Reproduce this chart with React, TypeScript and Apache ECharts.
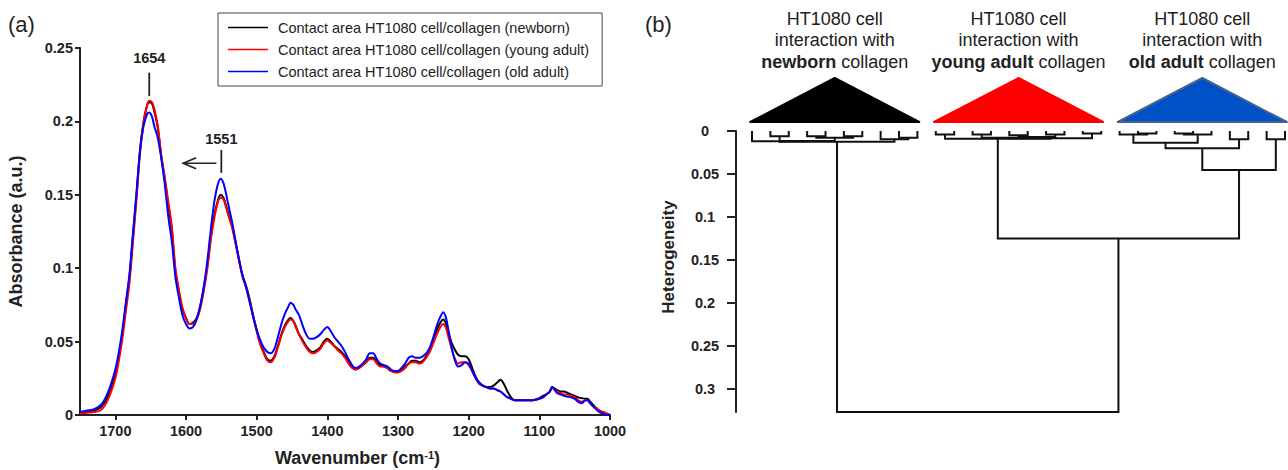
import React, { useEffect, useRef } from "react";
import * as echarts from "echarts";

const FONT = "'Liberation Sans', Arial, Helvetica, sans-serif";

// ---------- (a) FTIR spectra ----------
const wavenumbers = [
  1750, 1740, 1730, 1720, 1710, 1700, 1695, 1690, 1685, 1680,
  1675, 1670, 1665, 1660, 1655, 1652, 1648, 1645, 1640, 1635,
  1630, 1625, 1620, 1615, 1610, 1605, 1600, 1595, 1590, 1585,
  1580, 1575, 1570, 1565, 1560, 1555, 1551, 1547, 1543, 1540,
  1535, 1530, 1525, 1520, 1515, 1510, 1505, 1500, 1495, 1490,
  1485, 1480, 1475, 1470, 1465, 1460, 1455, 1452, 1448, 1445,
  1440, 1435, 1430, 1425, 1420, 1415, 1410, 1405, 1400, 1395,
  1390, 1385, 1380, 1375, 1370, 1365, 1360, 1355, 1350, 1345,
  1340, 1335, 1330, 1325, 1320, 1315, 1310, 1305, 1300, 1295,
  1290, 1285, 1280, 1275, 1270, 1265, 1260, 1255, 1250, 1245,
  1240, 1236, 1232, 1228, 1224, 1220, 1215, 1210, 1205, 1200,
  1195, 1190, 1185, 1180, 1175, 1170, 1165, 1160, 1155, 1150,
  1145, 1140, 1135, 1130, 1120, 1110, 1100, 1095, 1090, 1085,
  1082, 1078, 1075, 1070, 1065, 1060, 1055, 1050, 1045, 1040,
  1035, 1032, 1028, 1024, 1020, 1015, 1010, 1005, 1000,
];

const absorbanceNewborn = [
  0.0015, 0.002, 0.003, 0.0055, 0.013, 0.027, 0.040, 0.056, 0.075, 0.094,
  0.122, 0.150, 0.181, 0.200, 0.211, 0.213, 0.212, 0.207, 0.196, 0.176,
  0.160, 0.143, 0.126, 0.098, 0.084, 0.072, 0.066, 0.062, 0.063, 0.066,
  0.074, 0.086, 0.101, 0.121, 0.136, 0.146, 0.150, 0.148, 0.142, 0.137,
  0.129, 0.118, 0.106, 0.095, 0.088, 0.079, 0.068, 0.058, 0.049, 0.043,
  0.038, 0.037, 0.040, 0.047, 0.055, 0.061, 0.065, 0.066, 0.064, 0.061,
  0.055, 0.051, 0.047, 0.044, 0.043, 0.044, 0.046, 0.050, 0.052, 0.050,
  0.047, 0.045, 0.043, 0.040, 0.036, 0.033, 0.031, 0.032, 0.034, 0.036,
  0.039, 0.039, 0.036, 0.034, 0.033, 0.032, 0.030, 0.030, 0.030, 0.031,
  0.033, 0.035, 0.037, 0.037, 0.036, 0.037, 0.040, 0.044, 0.051, 0.058,
  0.063, 0.065, 0.062, 0.055, 0.049, 0.045, 0.041, 0.040, 0.040, 0.038,
  0.032, 0.026, 0.022, 0.020, 0.019, 0.019, 0.020, 0.022, 0.024, 0.021,
  0.016, 0.012, 0.010, 0.010, 0.010, 0.010, 0.0115, 0.013, 0.014, 0.016,
  0.019, 0.018, 0.017, 0.016, 0.016, 0.015, 0.014, 0.013, 0.012, 0.0115,
  0.011, 0.011, 0.009, 0.007, 0.005, 0.003, 0.002, 0.001, 0.0,
];

const absorbanceYoungAdult = [
  0.001, 0.0015, 0.002, 0.0035, 0.011, 0.025, 0.037, 0.052, 0.071, 0.090,
  0.118, 0.147, 0.179, 0.199, 0.211, 0.214, 0.213, 0.209, 0.197, 0.177,
  0.162, 0.145, 0.128, 0.100, 0.085, 0.073, 0.066, 0.062, 0.062, 0.065,
  0.072, 0.084, 0.099, 0.119, 0.134, 0.145, 0.148, 0.147, 0.141, 0.136,
  0.128, 0.117, 0.105, 0.094, 0.087, 0.078, 0.067, 0.057, 0.048, 0.042,
  0.037, 0.036, 0.039, 0.046, 0.054, 0.060, 0.064, 0.065, 0.064, 0.060,
  0.055, 0.050, 0.046, 0.043, 0.042, 0.043, 0.045, 0.049, 0.051, 0.049,
  0.047, 0.044, 0.042, 0.039, 0.035, 0.032, 0.031, 0.032, 0.034, 0.036,
  0.038, 0.038, 0.035, 0.033, 0.033, 0.032, 0.030, 0.029, 0.029, 0.030,
  0.032, 0.035, 0.036, 0.036, 0.035, 0.036, 0.039, 0.043, 0.049, 0.055,
  0.060, 0.062, 0.059, 0.052, 0.045, 0.039, 0.035, 0.036, 0.036, 0.034,
  0.030, 0.025, 0.021, 0.020, 0.019, 0.018, 0.018, 0.017, 0.016, 0.014,
  0.012, 0.011, 0.010, 0.010, 0.010, 0.010, 0.011, 0.012, 0.014, 0.016,
  0.019, 0.017, 0.016, 0.015, 0.014, 0.014, 0.013, 0.012, 0.010, 0.009,
  0.010, 0.010, 0.008, 0.006, 0.005, 0.003, 0.002, 0.001, 0.0,
];

const absorbanceOldAdult = [
  0.002, 0.003, 0.004, 0.007, 0.016, 0.031, 0.043, 0.058, 0.077, 0.096,
  0.124, 0.152, 0.180, 0.197, 0.205, 0.206, 0.203, 0.197, 0.189, 0.175,
  0.157, 0.135, 0.118, 0.094, 0.080, 0.068, 0.062, 0.059, 0.060, 0.065,
  0.074, 0.087, 0.104, 0.126, 0.145, 0.157, 0.161, 0.158, 0.150, 0.143,
  0.132, 0.119, 0.106, 0.095, 0.087, 0.077, 0.067, 0.058, 0.051, 0.046,
  0.043, 0.042, 0.045, 0.053, 0.062, 0.069, 0.074, 0.0765, 0.075, 0.072,
  0.068, 0.061, 0.055, 0.052, 0.052, 0.053, 0.055, 0.058, 0.060, 0.057,
  0.053, 0.050, 0.047, 0.043, 0.038, 0.034, 0.032, 0.033, 0.035, 0.038,
  0.042, 0.042, 0.038, 0.035, 0.034, 0.033, 0.031, 0.030, 0.030, 0.032,
  0.035, 0.039, 0.040, 0.039, 0.039, 0.040, 0.042, 0.046, 0.053, 0.061,
  0.067, 0.070, 0.066, 0.056, 0.046, 0.038, 0.033, 0.034, 0.036, 0.035,
  0.030, 0.025, 0.022, 0.020, 0.019, 0.018, 0.018, 0.017, 0.016, 0.014,
  0.012, 0.011, 0.010, 0.010, 0.010, 0.010, 0.011, 0.012, 0.014, 0.016,
  0.019, 0.017, 0.015, 0.014, 0.013, 0.0125, 0.012, 0.011, 0.009, 0.008,
  0.010, 0.010, 0.008, 0.006, 0.004, 0.002, 0.001, 0.0, 0.0,
];

const spectrumNames = [
  "Contact area HT1080 cell/collagen (newborn)",
  "Contact area HT1080 cell/collagen (young adult)",
  "Contact area HT1080 cell/collagen (old adult)",
];
const spectrumColors = ["#000000", "#ff0000", "#0000ff"];
const spectrumValues = [absorbanceNewborn, absorbanceYoungAdult, absorbanceOldAdult];

const wavenumberRange = [1000, 1750];
const wavenumberTickRange = [1000, 1700];
const wavenumberStep = 100;
const absorbanceRange = [0, 0.25];
const absorbanceStep = 0.05;

const peakMarks = [
  { label: "1654", wavenumber: 1652, labelAt: 0.2434, lineFrom: 0.2332, lineTo: 0.2173 },
  { label: "1551", wavenumber: 1550, labelAt: 0.188, lineFrom: 0.1805, lineTo: 0.1649 },
];
const shiftArrow = { from: 1557, to: 1604, absorbance: 0.1715 };

// ---------- (b) dendrogram ----------
const heterogeneityMax = 0.327;
const heterogeneityTickMax = 0.3;
const heterogeneityStep = 0.05;
const leafCount = 30;
// [left child, right child, merge height]; ids 0..29 are leaves, merges get ids 30, 31, ...
const merges: [number, number, number][] = [
  // newborn cluster
  [1, 2, 0.006], // 30
  [3, 4, 0.006], // 31
  [5, 6, 0.006], // 32
  [8, 9, 0.008], // 33
  [31, 32, 0.008], // 34
  [7, 33, 0.0095], // 35
  [30, 34, 0.0115], // 36
  [0, 36, 0.012], // 37
  [37, 35, 0.0125], // 38
  // young adult cluster
  [10, 11, 0.004], // 39
  [12, 13, 0.004], // 40
  [14, 15, 0.005], // 41
  [16, 17, 0.004], // 42
  [18, 19, 0.003], // 43
  [41, 42, 0.007], // 44
  [40, 44, 0.008], // 45
  [45, 43, 0.0085], // 46
  [39, 46, 0.009], // 47
  // old adult cluster
  [21, 22, 0.003], // 48
  [20, 48, 0.004], // 49
  [23, 24, 0.003], // 50
  [50, 25, 0.004], // 51
  [49, 51, 0.0136], // 52
  [26, 27, 0.0097], // 53
  [52, 53, 0.02], // 54
  [28, 29, 0.0097], // 55
  [54, 55, 0.0454], // 56
  // between clusters
  [47, 56, 0.125], // 57
  [38, 57, 0.327], // 58
];

const clusterGroups = [
  { firstLeaf: 0, lastLeaf: 9, bold: "newborn", fill: "#000000", stroke: "#000000" },
  { firstLeaf: 10, lastLeaf: 19, bold: "young adult", fill: "#ff0000", stroke: "#ff0000" },
  { firstLeaf: 20, lastLeaf: 29, bold: "old adult", fill: "#0050c8", stroke: "#44618c" },
];

function buildDendrogram() {
  const nodeX: number[] = [];
  const nodeH: number[] = [];
  for (let i = 0; i < leafCount; i++) {
    nodeX[i] = i;
    nodeH[i] = 0;
  }
  return merges.map(([a, b, h], k) => {
    const id = leafCount + k;
    nodeX[id] = (nodeX[a] + nodeX[b]) / 2;
    nodeH[id] = h;
    return {
      coords: [
        [nodeX[a], nodeH[a]],
        [nodeX[a], h],
        [nodeX[b], h],
        [nodeX[b], nodeH[b]],
      ],
    };
  });
}

const AXIS_COLOR = "#222222";

// layout (pixels)
const SPEC = { left: 80, top: 48, width: 530, height: 367 };
const DEND = { left: 752, top: 131, width: 533, height: 281 };

export default function App() {
  const ref = useRef<HTMLDivElement | null>(null);

  useEffect(() => {
    if (!ref.current) return;
    const chart = echarts.init(ref.current, undefined, { renderer: "svg" });

    // helper grids carry the ticks so that no extra tick appears at the axis ends
    const specSpan = wavenumberRange[1] - wavenumberRange[0];
    const tickGridLeft = SPEC.left + (SPEC.width * (wavenumberRange[1] - wavenumberTickRange[1])) / specSpan;
    const tickGridWidth = (SPEC.width * (wavenumberTickRange[1] - wavenumberTickRange[0])) / specSpan;
    const dendTickHeight = (DEND.height * heterogeneityTickMax) / heterogeneityMax;

    const tickLabelStyle = {
      fontSize: 14.5,
      fontWeight: "bold",
      color: AXIS_COLOR,
      fontFamily: FONT,
    };
    const axisLineStyle = { color: AXIS_COLOR, width: 2 };

    const option: any = {
      animation: false,
      backgroundColor: "#ffffff",
      textStyle: { fontFamily: FONT },
      legend: {
        show: true,
        data: spectrumNames,
        orient: "vertical",
        left: 218,
        top: 13,
        icon: "rect",
        itemWidth: 40,
        itemHeight: 1.6,
        itemGap: 7,
        padding: [7, 13, 7, 10],
        borderColor: "#444444",
        borderWidth: 1,
        borderRadius: 0,
        backgroundColor: "#ffffff",
        selectedMode: false,
        textStyle: {
          fontSize: 14.5,
          color: "#222222",
          fontFamily: FONT,
          padding: [0, 0, 0, 5],
          lineHeight: 15,
        },
      },
      grid: [
        { ...SPEC, containLabel: false, outerBoundsMode: "none" },
        { ...DEND, containLabel: false, outerBoundsMode: "none" },
        { left: tickGridLeft, top: SPEC.top, width: tickGridWidth, height: SPEC.height, containLabel: false, outerBoundsMode: "none" },
        { left: DEND.left, top: DEND.top, width: DEND.width, height: dendTickHeight, containLabel: false, outerBoundsMode: "none" },
      ],
      xAxis: [
        {
          gridIndex: 0,
          type: "value",
          min: wavenumberRange[0],
          max: wavenumberRange[1],
          inverse: true,
          name: "Wavenumber (cm{sup|-1})",
          nameLocation: "middle",
          nameGap: 34,
          nameMoveOverlap: false,
          nameTextStyle: {
            fontSize: 18,
            fontWeight: "bold",
            color: AXIS_COLOR,
            fontFamily: FONT,
            padding: [0, 0, 0, 25],
            rich: {
              sup: { fontSize: 11, fontWeight: "bold", color: AXIS_COLOR, fontFamily: FONT, verticalAlign: "top" },
            },
          },
          axisLine: { show: true, onZero: false, lineStyle: axisLineStyle },
          axisTick: { show: false },
          axisLabel: { show: false },
          splitLine: { show: false },
        },
        { gridIndex: 1, type: "value", min: 0, max: leafCount - 1, show: false },
        {
          gridIndex: 2,
          type: "value",
          min: wavenumberTickRange[0],
          max: wavenumberTickRange[1],
          interval: wavenumberStep,
          inverse: true,
          axisLine: { show: false, onZero: false },
          axisTick: { show: true, length: 5, inside: false, lineStyle: axisLineStyle },
          axisLabel: { show: true, margin: 8, ...tickLabelStyle, formatter: (v: number) => String(v) },
          splitLine: { show: false },
        },
        { gridIndex: 3, type: "value", min: 0, max: 1, show: false },
      ],
      yAxis: [
        {
          gridIndex: 0,
          type: "value",
          min: absorbanceRange[0],
          max: absorbanceRange[1],
          interval: absorbanceStep,
          name: "Absorbance (a.u.)",
          nameLocation: "middle",
          nameGap: 55,
          nameRotate: 90,
          nameMoveOverlap: false,
          nameTextStyle: { fontSize: 18, fontWeight: "bold", color: AXIS_COLOR, fontFamily: FONT },
          axisLine: { show: true, onZero: false, lineStyle: axisLineStyle },
          axisTick: { show: true, length: 5, inside: false, lineStyle: axisLineStyle },
          axisLabel: { show: true, margin: 7, ...tickLabelStyle },
          splitLine: { show: false },
        },
        {
          gridIndex: 1,
          type: "value",
          min: 0,
          max: heterogeneityMax,
          inverse: true,
          offset: 16,
          name: "Heterogeneity",
          nameLocation: "middle",
          nameGap: 59,
          nameRotate: 90,
          nameMoveOverlap: false,
          nameTextStyle: {
            fontSize: 17,
            fontWeight: "bold",
            color: AXIS_COLOR,
            fontFamily: FONT,
            padding: [0, 0, 0, 29],
          },
          axisLine: { show: true, onZero: false, lineStyle: axisLineStyle },
          axisTick: { show: false },
          axisLabel: { show: false },
          splitLine: { show: false },
        },
        { gridIndex: 2, type: "value", min: 0, max: 1, show: false },
        {
          gridIndex: 3,
          type: "value",
          min: 0,
          max: heterogeneityTickMax,
          interval: heterogeneityStep,
          inverse: true,
          offset: 16,
          axisLine: { show: false, onZero: false },
          axisTick: { show: true, length: 9, inside: false, lineStyle: axisLineStyle },
          axisLabel: { show: true, margin: 31, align: "center", ...tickLabelStyle },
          splitLine: { show: false },
        },
      ],
      series: [
        ...spectrumValues.map((vals, i) => ({
          type: "line",
          name: spectrumNames[i],
          xAxisIndex: 0,
          yAxisIndex: 0,
          data: wavenumbers.map((w, j) => [w, vals[j]]),
          symbol: "none",
          showSymbol: false,
          smooth: 0.3,
          silent: true,
          z: 2 + i,
          lineStyle: { color: spectrumColors[i], width: 2 },
          itemStyle: { color: spectrumColors[i] },
        })),
        {
          type: "lines",
          name: "dendrogram",
          coordinateSystem: "cartesian2d",
          xAxisIndex: 1,
          yAxisIndex: 1,
          polyline: true,
          clip: false,
          silent: true,
          data: buildDendrogram(),
          lineStyle: { color: "#111111", width: 2, opacity: 1 },
          z: 3,
        },
      ],
    };

    chart.setOption(option);

    const px = (grid: number, x: number, y: number) =>
      chart.convertToPixel({ gridIndex: grid } as any, [x, y]) as number[];

    const graphics: any[] = [];

    graphics.push({
      type: "text",
      x: 8,
      y: 24,
      style: { text: "(a)", fontSize: 22, fontFamily: FONT, fill: "#222222", align: "left", verticalAlign: "middle" },
    });
    graphics.push({
      type: "text",
      x: 645,
      y: 24,
      style: { text: "(b)", fontSize: 22, fontFamily: FONT, fill: "#222222", align: "left", verticalAlign: "middle" },
    });

    peakMarks.forEach((m) => {
      const [tx, ty] = px(0, m.wavenumber, m.labelAt);
      const [, y1] = px(0, m.wavenumber, m.lineFrom);
      const [, y2] = px(0, m.wavenumber, m.lineTo);
      graphics.push({
        type: "text",
        x: tx,
        y: ty,
        style: {
          text: m.label,
          fontSize: 14.5,
          fontWeight: "bold",
          fontFamily: FONT,
          fill: "#222222",
          align: "center",
          verticalAlign: "middle",
        },
      });
      graphics.push({
        type: "line",
        shape: { x1: tx, y1, x2: tx, y2 },
        style: { stroke: "#222222", lineWidth: 1.8 },
      });
    });

    {
      const [ax1, ay] = px(0, shiftArrow.from, shiftArrow.absorbance);
      const [ax2] = px(0, shiftArrow.to, shiftArrow.absorbance);
      graphics.push({
        type: "line",
        shape: { x1: ax1, y1: ay, x2: ax2, y2: ay },
        style: { stroke: "#222222", lineWidth: 1.6 },
      });
      graphics.push({
        type: "polyline",
        shape: { points: [[ax2 + 13, ay - 5.5], [ax2, ay], [ax2 + 13, ay + 5.5]] },
        style: { stroke: "#222222", lineWidth: 1.6, fill: "none" },
      });
    }

    clusterGroups.forEach((g) => {
      const [xl, y0] = px(1, g.firstLeaf - 0.1, 0);
      const [xr] = px(1, g.lastLeaf + 0.1, 0);
      const cx = (xl + xr) / 2;
      graphics.push({
        type: "polygon",
        shape: { points: [[xl, y0 - 9], [cx, y0 - 53], [xr, y0 - 9]] },
        style: { fill: g.fill, stroke: g.stroke, lineWidth: 2, lineJoin: "round" },
      });
      graphics.push({
        type: "text",
        x: cx,
        y: 8,
        style: {
          text: "HT1080 cell\ninteraction with\n{b|" + g.bold + "} collagen",
          fontSize: 18,
          fontFamily: FONT,
          fill: "#222222",
          align: "center",
          verticalAlign: "top",
          lineHeight: 21.5,
          rich: {
            b: { fontSize: 18, fontWeight: "bold", fontFamily: FONT, fill: "#222222", lineHeight: 21.5 },
          },
        },
      });
    });

    chart.setOption({ graphic: graphics });

    return () => {
      chart.dispose();
    };
  }, []);

  return (
    <div
      ref={ref}
      style={{ position: "absolute", left: 0, top: 0, width: 1288, height: 470, background: "#ffffff" }}
    />
  );
}
